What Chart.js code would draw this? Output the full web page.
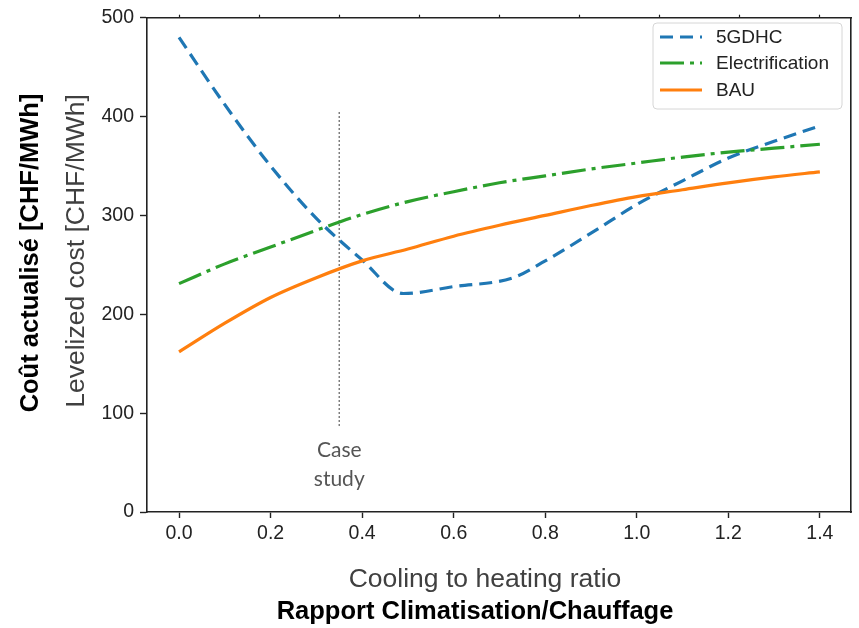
<!DOCTYPE html>
<html>
<head>
<meta charset="utf-8">
<script src="https://cdn.jsdelivr.net/npm/chart.js@4/dist/chart.umd.min.js"></script>
<style>
  html, body { margin: 0; padding: 0; background: #fff; }
  #wrap { width: 859px; height: 628px; position: relative; }
</style>
</head>
<body>
<div id="wrap"><canvas id="c" width="859" height="628"></canvas></div>
<script>
// Cooling-to-heating ratio sample points and levelized cost [CHF/MWh]
const ratioGDHC = [0.0, 0.1, 0.2, 0.3, 0.4, 0.49, 0.6, 0.73, 0.8, 0.9, 1.0, 1.1, 1.2, 1.3, 1.39];
const cost5GDHC = [480, 412, 350, 297, 255, 221, 228, 237, 254, 282, 311, 335, 358, 375, 389];

const ratioRef = [0.0, 0.1, 0.2, 0.3, 0.4, 0.5, 0.6, 0.7, 0.8, 0.9, 1.0, 1.1, 1.2, 1.3, 1.4];
const costElectrification = [231, 251, 268, 285, 301, 314, 324, 333, 340, 347, 353, 359, 364, 368, 372];
const costBAU = [162, 191, 217, 237, 254, 266, 279, 290, 300, 310, 319, 326, 333, 339, 344];

// Case study marker
const caseStudyRatio = 0.35;
const caseStudyRange = [87, 405];

// Axis ticks
const xTicks = [0.0, 0.2, 0.4, 0.6, 0.8, 1.0, 1.2, 1.4];
const xTopTicks = [0, 0.175, 0.35, 0.525, 0.7, 0.875, 1.05, 1.225, 1.4];
const yTicks = [0, 100, 200, 300, 400, 500];

const seriesNames = ['5GDHC', 'Electrification', 'BAU'];

const pts = (xs, ys) => xs.map((x, i) => ({ x: x, y: ys[i] }));

const AXIS = '#222222';
const SANS = "'Liberation Sans', Arial, sans-serif";

const blueDash = [13, 7];
const greenDash = [24, 6, 4, 6];

const datasets = [
  {
    label: seriesNames[0],
    data: pts(ratioGDHC, cost5GDHC),
    borderColor: '#1f77b4',
    borderWidth: 3.2,
    borderDash: blueDash,
    cubicInterpolationMode: 'monotone',
    pointRadius: 0,
    order: 3
  },
  {
    label: seriesNames[1],
    data: pts(ratioRef, costElectrification),
    borderColor: '#2ca02c',
    borderWidth: 3.2,
    borderDash: greenDash,
    cubicInterpolationMode: 'monotone',
    pointRadius: 0,
    order: 2
  },
  {
    label: seriesNames[2],
    data: pts(ratioRef, costBAU),
    borderColor: '#ff7f0e',
    borderWidth: 3.2,
    cubicInterpolationMode: 'monotone',
    pointRadius: 0,
    order: 1
  },
  {
    label: 'case',
    data: [{ x: caseStudyRatio, y: caseStudyRange[0] }, { x: caseStudyRatio, y: caseStudyRange[1] }],
    borderColor: '#777777',
    borderWidth: 1.4,
    borderDash: [2, 2],
    pointRadius: 0,
    order: 4
  }
];

// Titles, case-study label and legend box
const annotations = {
  id: 'annotations',
  afterDraw(chart) {
    const ctx = chart.ctx;
    const xs = chart.scales.x, ys = chart.scales.y;
    ctx.save();

    // y-axis titles
    ctx.textAlign = 'center';
    ctx.textBaseline = 'middle';
    ctx.save();
    ctx.translate(31, 253);
    ctx.rotate(-Math.PI / 2);
    ctx.fillStyle = '#000';
    ctx.font = 'bold 25.5px ' + SANS;
    ctx.fillText('Coût actualisé [CHF/MWh]', 0, 0);
    ctx.restore();
    ctx.save();
    ctx.translate(77, 251);
    ctx.rotate(-Math.PI / 2);
    ctx.fillStyle = '#404040';
    ctx.font = '26.5px ' + SANS;
    ctx.fillText('Levelized cost [CHF/MWh]', 0, 0);
    ctx.restore();

    // x-axis titles
    ctx.fillStyle = '#404040';
    ctx.font = '26.5px ' + SANS;
    ctx.fillText('Cooling to heating ratio', 485, 580);
    ctx.fillStyle = '#000';
    ctx.font = 'bold 25.5px ' + SANS;
    ctx.fillText('Rapport Climatisation/Chauffage', 475, 612);

    // case study label
    const cx = xs.getPixelForValue(caseStudyRatio);
    const base = ys.getPixelForValue(caseStudyRange[0]);
    ctx.fillStyle = '#555555';
    ctx.font = "21px Lato, 'Open Sans', sans-serif";
    ctx.fillText('Case', cx, base + 24);
    ctx.fillText('study', cx, base + 53);

    // legend
    const bx = 653, by = 23, bw = 189, bh = 86, r = 4;
    ctx.beginPath();
    ctx.moveTo(bx + r, by);
    ctx.arcTo(bx + bw, by, bx + bw, by + bh, r);
    ctx.arcTo(bx + bw, by + bh, bx, by + bh, r);
    ctx.arcTo(bx, by + bh, bx, by, r);
    ctx.arcTo(bx, by, bx + bw, by, r);
    ctx.closePath();
    ctx.fillStyle = 'rgba(255,255,255,0.85)';
    ctx.fill();
    ctx.strokeStyle = '#d6d6d6';
    ctx.lineWidth = 1;
    ctx.stroke();

    const rowsY = [37, 63, 90];
    for (let i = 0; i < 3; i++) {
      const ds = chart.data.datasets[i];
      ctx.beginPath();
      ctx.setLineDash(ds.borderDash || []);
      ctx.strokeStyle = ds.borderColor;
      ctx.lineWidth = 3.2;
      ctx.moveTo(660, rowsY[i]);
      ctx.lineTo(702, rowsY[i]);
      ctx.stroke();
      ctx.setLineDash([]);
      ctx.fillStyle = '#222';
      ctx.font = '19px ' + SANS;
      ctx.textAlign = 'left';
      ctx.fillText(ds.label, 716, rowsY[i] + 1);
    }
    ctx.restore();
  }
};

const tickFont = { family: SANS, size: 19.5 };
const frame = { color: AXIS, width: 1.6 };

new Chart(document.getElementById('c'), {
  type: 'line',
  data: { datasets: datasets },
  plugins: [annotations],
  options: {
    responsive: false,
    animation: false,
    layout: { padding: 0 },
    plugins: { legend: { display: false }, tooltip: { enabled: false } },
    scales: {
      x: {
        type: 'linear',
        position: 'bottom',
        min: -0.07,
        max: 1.468,
        afterBuildTicks: s => { s.ticks = xTicks.map(v => ({ value: v })); },
        afterFit: s => { s.height = 116; },
        ticks: { font: tickFont, color: AXIS, padding: 4, maxRotation: 0,
                 callback: v => Number(v).toFixed(1) },
        grid: { drawOnChartArea: false, tickLength: 6, color: AXIS, tickWidth: 1.4 },
        border: frame
      },
      xTop: {
        type: 'linear',
        position: 'top',
        min: -0.07,
        max: 1.468,
        afterBuildTicks: s => { s.ticks = xTopTicks.map(v => ({ value: v })); },
        afterFit: s => { s.height = 12; },
        ticks: { display: false },
        grid: { drawOnChartArea: false, tickLength: 3, color: AXIS, tickWidth: 1.2 },
        border: frame
      },
      y: {
        type: 'linear',
        position: 'left',
        min: 0,
        max: 500,
        afterBuildTicks: s => { s.ticks = yTicks.map(v => ({ value: v })); },
        afterFit: s => { s.width = 147; },
        ticks: { font: tickFont, color: AXIS, padding: 6 },
        grid: { drawOnChartArea: false, tickLength: 7, color: AXIS, tickWidth: 1.4 },
        border: frame
      },
      yRight: {
        type: 'linear',
        position: 'right',
        min: 0,
        max: 500,
        afterFit: s => { s.width = 8; },
        ticks: { display: false },
        grid: { display: false },
        border: frame
      }
    }
  }
});
</script>
</body>
</html>
